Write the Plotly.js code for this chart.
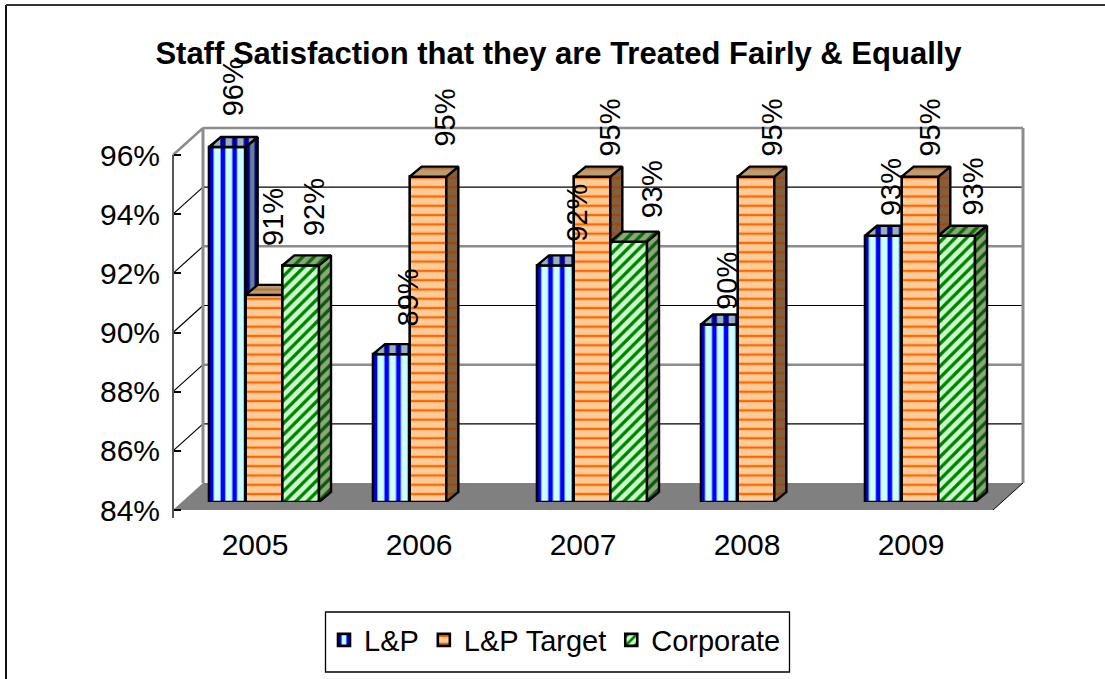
<!DOCTYPE html>
<html><head><meta charset="utf-8">
<script src="https://cdn.plot.ly/plotly-3.0.1.min.js"></script>
<style>html,body{margin:0;padding:0;background:#fff}#c{width:1105px;height:679px}</style>
</head><body><div id="c"></div>
<script>
const categories = ['2005','2006','2007','2008','2009'];
const lp = [96, 89, 92, 90, 93];
const lpTarget = [91, 95, 95, 95, 95];
const corporate = [92, null, 92.8, null, 93];
const gridValues = [96, 94, 92, 90, 88, 86, 84];
const gridGray = [96, 92, 88];
const seriesNames = ['L&P', 'L&P Target', 'Corporate'];

// label nudges (px), one row per series
const labelDx = [[6,17,22,8,7],[9,17,18,16,10],[14,0,23,0,16]];
const labelDy = [[-60,-57,-53,-44,-49],[-78,-59,-49,-49,-49],[-58,0,-52,0,-49]];

const W = 1105, H = 679;
const frontL = 173, frontR = 993, frontB = 510, frontT = 155;
const backDx = 30, backDy = 27, barDx = 9, barDy = 8;
const unitY = (frontB - frontT) / 12, unitX = (frontR - frontL) / 5;
const barW = 36.67 / unitX, depthX = 12 / unitX, depthY = 10 / unitY;
const base = 84;
const FONT = 'Liberation Sans, Arial, sans-serif';
const px = x => x / W, py = y => 1 - y / H;
const yFront = v => frontB - (v - base) * unitY;

const styles = [
  {front:{shape:'|',fg:'#0000ff',bg:'#ccffff',size:11.7,sol:0.4},
   side:{shape:'|',fg:'#000080',bg:'#668099',size:11.7,sol:0.6},
   top:{shape:'|',fg:'#000099',bg:'#9ab0bf',size:11.7,sol:0.45}},
  {front:{shape:'-',fg:'#ff6600',bg:'#ffcc99',size:9.3,sol:0.25},
   side:{shape:'-',fg:'#a04a0a',bg:'#80603f',size:9.3,sol:0.25},
   top:{shape:'-',fg:'#b07840',bg:'#c09a70',size:9.3,sol:0.25}},
  {front:{shape:'/',fg:'#008000',bg:'#ccffcc',size:8,sol:0.42},
   side:{shape:'/',fg:'#0a5a0a',bg:'#8aa878',size:8,sol:0.42},
   top:{shape:'/',fg:'#0a6a0a',bg:'#8aa878',size:8,sol:0.42}}
];
const pat = s => ({shape:s.shape, fgcolor:s.fg, bgcolor:s.bg, size:s.size, solidity:s.sol, fillmode:'replace'});

const data = [], annotations = [];
const catIdx = categories.map((_, i) => i);
[lp, lpTarget, corporate].forEach((vals, s) => {
  const n = s + 2, xa = 'x' + n, ya = 'y' + n;
  const off = (s - 1.5) * barW;
  const sx = [], sy = [], tx = [], ty = [];
  vals.forEach((v, i) => {
    if (v === null) return;
    const l = i + off, r = l + barW;
    sx.push(r, r + depthX, r + depthX, r, r, null);
    sy.push(base, base + depthY, v + depthY, v, base, null);
    tx.push(l, l + depthX, r + depthX, r, l, null);
    ty.push(v, v + depthY, v + depthY, v, v, null);
    annotations.push({xref:xa, yref:ya, x:i + off + barW / 2, y:v, text:Math.round(v) + '%',
      showarrow:false, textangle:-90, xanchor:'center', yanchor:'middle',
      xshift:labelDx[s][i], yshift:-labelDy[s][i], font:{family:FONT, size:29, color:'#000'}});
  });
  const line = {color:'#000', width:2.4};
  data.push({type:'scatter', mode:'lines', x:sx, y:sy, xaxis:xa, yaxis:ya, fill:'toself',
    fillcolor:styles[s].side.bg, fillpattern:pat(styles[s].side), line, showlegend:false, hoverinfo:'skip'});
  data.push({type:'scatter', mode:'lines', x:tx, y:ty, xaxis:xa, yaxis:ya, fill:'toself',
    fillcolor:styles[s].top.bg, fillpattern:pat(styles[s].top), line, showlegend:false, hoverinfo:'skip'});
  data.push({type:'bar', name:seriesNames[s], x:catIdx, y:vals.map(v => v === null ? null : v - base), base:base,
    width:barW, offset:off, xaxis:xa, yaxis:ya,
    marker:{color:styles[s].front.bg, pattern:pat(styles[s].front), line:{color:'#000', width:2.6}}});
});

const shapes = [];
const seg = (x0,y0,x1,y1,color,width) => shapes.push({type:'line', xref:'paper', yref:'paper', layer:'below',
  x0:px(x0), y0:py(y0), x1:px(x1), y1:py(y1), line:{color, width}});
// outer chart frame (left and top edges only are in view)
seg(6, 5, 6, H, '#111', 2);
seg(6, 5, W, 5, '#333', 2);
// legend box
shapes.push({type:'rect', xref:'paper', yref:'paper', layer:'below', x0:px(325.5), x1:px(789.5), y0:py(612), y1:py(672),
  line:{color:'#000', width:1.3}, fillcolor:'#fff'});
// floor
shapes.push({type:'path', xref:'paper', yref:'paper', layer:'below', fillcolor:'#808080', line:{width:0},
  path:`M${px(frontL)},${py(frontB)}L${px(frontR)},${py(frontB)}L${px(frontR+backDx)},${py(frontB-backDy)}L${px(frontL+backDx)},${py(frontB-backDy)}Z`});
// gridlines on the back and left walls
gridValues.forEach(v => {
  if (v === base) return;
  const gray = gridGray.includes(v);
  const c = gray ? '#8c8c8c' : '#000', w = gray ? 2.5 : 1.2;
  seg(frontL + backDx, yFront(v) - backDy, frontR + backDx, yFront(v) - backDy, c, w);
  if (v === 96) seg(frontL, yFront(v), frontL + backDx, yFront(v) - backDy, '#8c8c8c', 2.5);
  else seg(frontL, yFront(v), frontL + backDx, yFront(v) - backDy, '#000', 1.2);
});
seg(frontL + backDx, frontT - backDy, frontL + backDx, frontB - backDy, '#8c8c8c', 3);
seg(frontR + backDx, frontT - backDy, frontR + backDx, frontB - backDy, '#8c8c8c', 3);
seg(frontR, frontB, frontR + backDx, frontB - backDy, '#000', 1);
seg(frontL, frontT, frontL, frontB + 8, '#555', 2);

const layout = {
  width:W, height:H, margin:{l:0,r:0,t:0,b:0,autoexpand:false}, paper_bgcolor:'#fff', plot_bgcolor:'rgba(0,0,0,0)',
  font:{family:FONT, color:'#000'},
  title:{text:'Staff Satisfaction that they are Treated Fairly & Equally', x:558.5/W, xanchor:'center', y:1-53/H, yanchor:'middle',
    font:{family:FONT, size:31, color:'#000', weight:'bold'}},
  showlegend:true,
  legend:{orientation:'h', x:555/W, xanchor:'center', y:py(640), yanchor:'middle', borderwidth:0, bgcolor:'rgba(0,0,0,0)',
    font:{family:FONT, size:29, color:'#000'}, itemwidth:30, traceorder:'normal'},
  xaxis:{domain:[px(frontL), px(frontR)], range:[-0.5, 4.5], tickmode:'array', tickvals:[-0.5,0.5,1.5,2.5,3.5,4.5], ticktext:['','','','','',''],
    ticks:'outside', ticklen:8, tickcolor:'#000', tickwidth:1, showline:true, linecolor:'#000', linewidth:2, showgrid:false, zeroline:false, anchor:'y', fixedrange:true},
  xaxis5:{domain:[px(frontL), px(frontR)], range:[-0.5, 4.5], overlaying:'x', anchor:'y', tickmode:'array', tickvals:catIdx, ticktext:categories,
    ticks:'', ticklabelstandoff:14, tickfont:{family:FONT, size:30, color:'#000'}, showgrid:false, zeroline:false, showline:false, side:'bottom', fixedrange:true},
  yaxis:{domain:[py(frontB), py(frontT)], range:[84, 96], tickmode:'array', tickvals:gridValues, ticktext:gridValues.map(v => v + '%'), ticks:'outside', ticklen:7, tickcolor:'#000', tickwidth:1.5,
    ticklabelstandoff:8, tickfont:{family:FONT, size:30, color:'#000'}, showgrid:false, zeroline:false, showline:false, anchor:'x', fixedrange:true},
  annotations, shapes
};
[2,3,4].forEach(n => {
  layout['xaxis'+n] = {domain:[px(frontL+barDx), px(frontR+barDx)], range:[-0.5,4.5], visible:false, anchor:'y'+n, fixedrange:true};
  layout['yaxis'+n] = {domain:[py(frontB-barDy), py(frontT-barDy-unitY)], range:[84,97], visible:false, anchor:'x'+n, fixedrange:true};
});
// carrier so the year labels get drawn at the centre of each category
data.push({type:'scatter', mode:'none', x:catIdx, y:catIdx.map(() => base), xaxis:'x5', yaxis:'y', showlegend:false, hoverinfo:'skip'});
Plotly.newPlot('c', data, layout, {displayModeBar:false, responsive:false});
</script></body></html>
